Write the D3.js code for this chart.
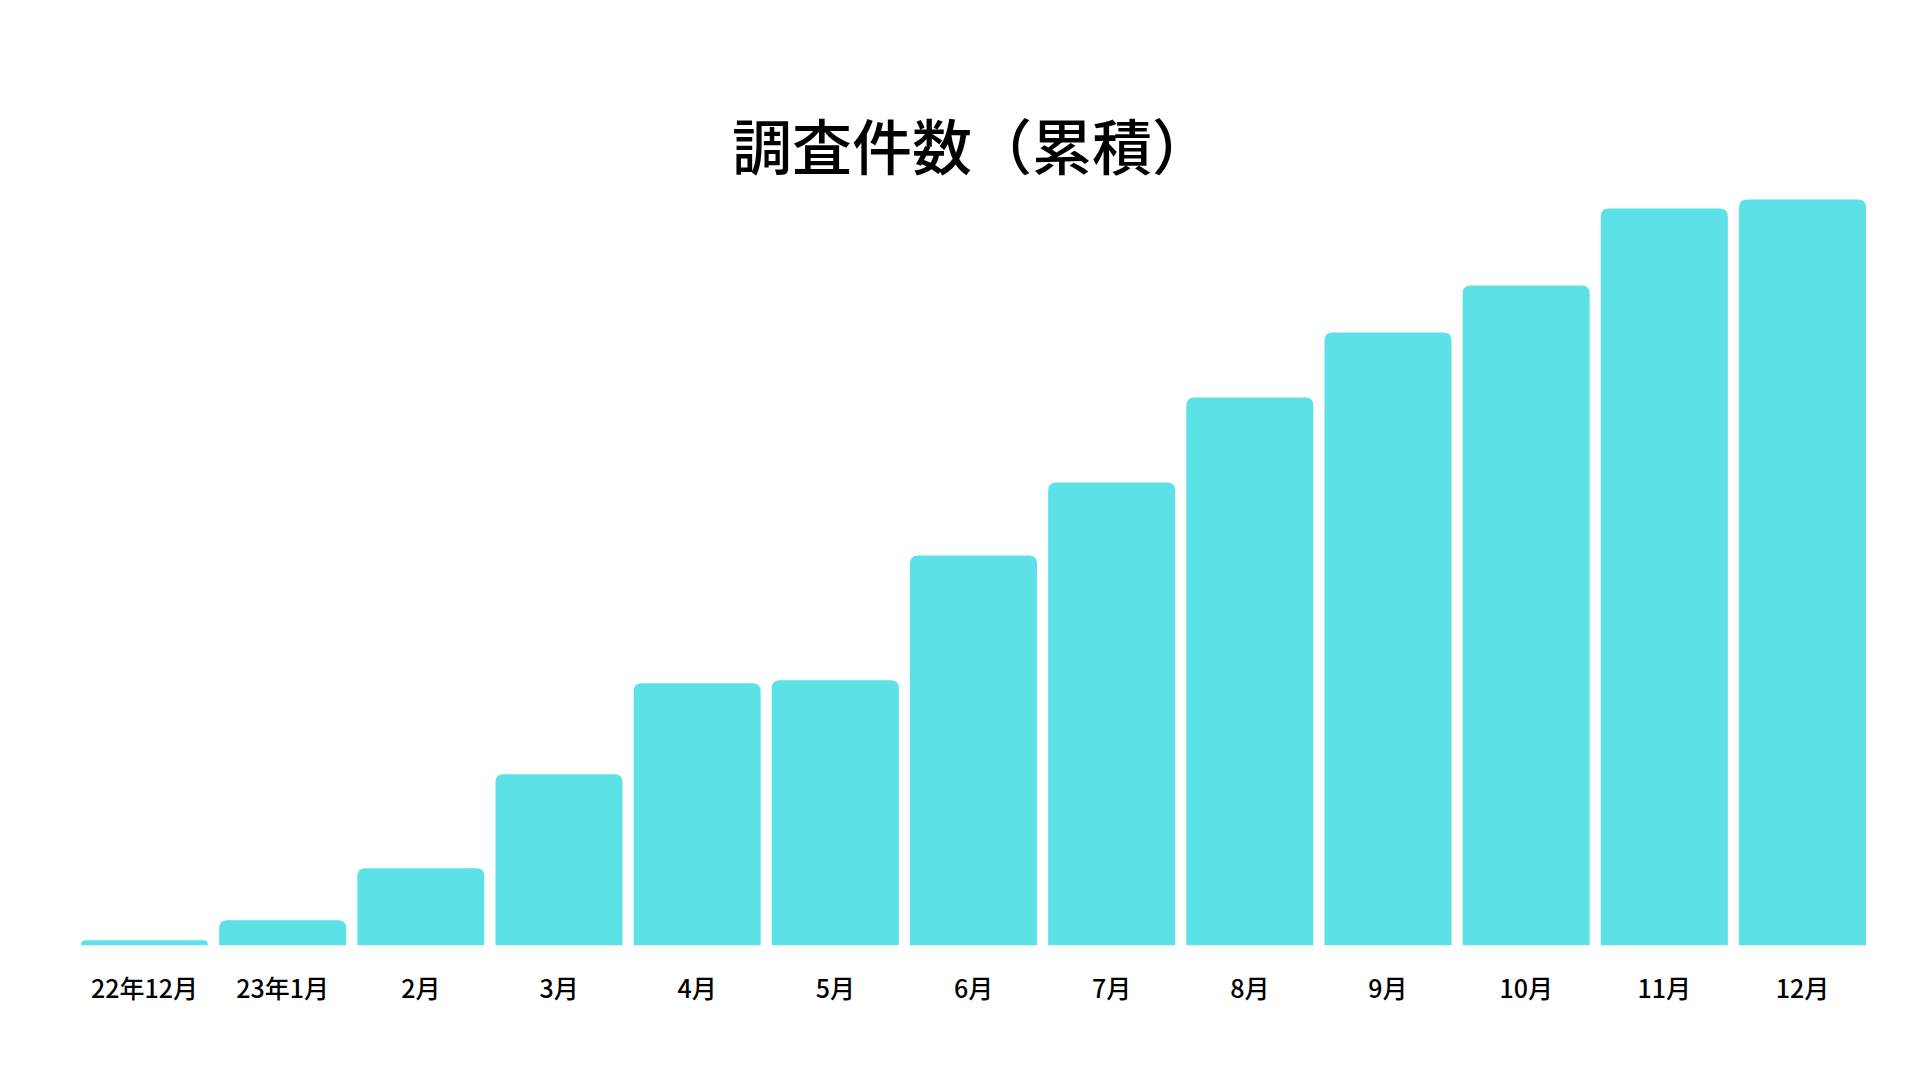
<!DOCTYPE html>
<html>
<head>
<meta charset="utf-8">
<script src="https://cdn.jsdelivr.net/npm/d3@7"></script>
<style>
  html, body { margin: 0; padding: 0; background: #ffffff; }
  svg { display: block; }
</style>
</head>
<body>
<svg id="chart" width="1920" height="1080"></svg>
<script>
const title = "調査件数（累積）";
const categories = ["22年12月", "23年1月", "2月", "3月", "4月", "5月", "6月", "7月", "8月", "9月", "10月", "11月", "12月"];
const values = [5, 25, 77, 171, 262, 265, 390, 463, 548, 613, 660, 737, 746];

const W = 1920, H = 1080;
const svg = d3.select("#chart");
const fontCJK = "'Noto Sans CJK JP', 'Noto Sans', sans-serif";
const barColor = "#5ce1e6";

const x = d3.scaleBand()
  .domain(categories)
  .range([81, 1866])
  .paddingInner(0.0808)
  .paddingOuter(0);

const baseY = 945.3;
const y = d3.scaleLinear()
  .domain([0, 746])
  .range([baseY, 199.5]);

const r = 8;
function barPath(d, i) {
  const x0 = x(categories[i]);
  const w = x.bandwidth();
  const yt = y(d);
  const h = baseY - yt;
  const rr = Math.min(r, h, w / 2);
  return `M${x0},${baseY}` +
         `V${yt + rr}` +
         `Q${x0},${yt} ${x0 + rr},${yt}` +
         `H${x0 + w - rr}` +
         `Q${x0 + w},${yt} ${x0 + w},${yt + rr}` +
         `V${baseY}Z`;
}

svg.append("g")
  .selectAll("path")
  .data(values)
  .join("path")
  .attr("d", barPath)
  .attr("fill", barColor);

const xAxis = d3.axisBottom(x).tickSize(0).tickPadding(0);
const gx = svg.append("g")
  .attr("transform", `translate(0, 998)`)
  .call(xAxis);
gx.select(".domain").remove();
gx.selectAll("text")
  .attr("dy", null)
  .attr("y", 0)
  .attr("font-family", fontCJK)
  .attr("font-size", 25)
  .attr("font-weight", 500)
  .attr("fill", "#000000");

svg.append("text")
  .attr("x", 972)
  .attr("y", 170)
  .attr("text-anchor", "middle")
  .attr("font-family", fontCJK)
  .attr("font-size", 60)
  .attr("font-weight", 500)
  .attr("fill", "#000000")
  .text(title);
</script>
</body>
</html>
